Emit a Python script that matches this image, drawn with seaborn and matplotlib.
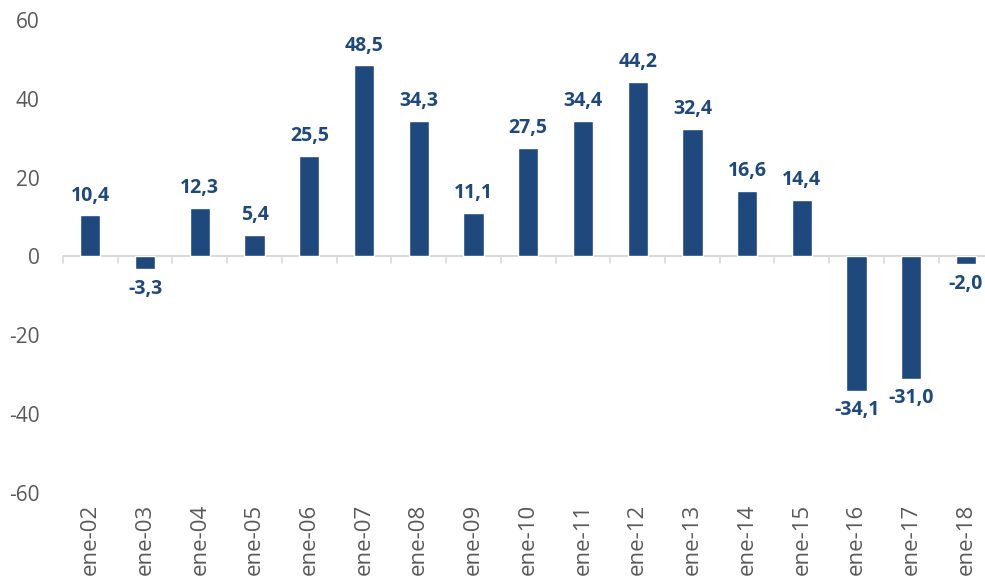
import matplotlib
matplotlib.use('Agg')
import matplotlib.pyplot as plt
import seaborn as sns
import pandas as pd

# Datos
periodos = ['ene-02', 'ene-03', 'ene-04', 'ene-05', 'ene-06', 'ene-07', 'ene-08',
            'ene-09', 'ene-10', 'ene-11', 'ene-12', 'ene-13', 'ene-14', 'ene-15',
            'ene-16', 'ene-17', 'ene-18']
valores = [10.4, -3.3, 12.3, 5.4, 25.5, 48.5, 34.3, 11.1, 27.5, 34.4, 44.2,
           32.4, 16.6, 14.4, -34.1, -31.0, -2.0]
y_ticks = [-60, -40, -20, 0, 20, 40, 60]

azul = '#1F497D'
gris = '#595959'

sns.set_style('white')
plt.rcParams['font.family'] = ['Open Sans', 'DejaVu Sans']
plt.rcParams['axes.unicode_minus'] = False

df = pd.DataFrame({'periodo': periodos, 'valor': valores})

fig = plt.figure(figsize=(9.85, 5.86), dpi=100)
ax = fig.add_axes([63 / 985, 0.159, 1 - 63 / 985, 0.966 - 0.159])

sns.barplot(data=df, x='periodo', y='valor', color=azul, width=0.37,
            saturation=1, ax=ax)

# Etiquetas de valor
etiquetas = [f'{v:.1f}'.replace('.', ',') for v in valores]
ax.bar_label(ax.containers[0], labels=etiquetas, padding=7, color=azul,
             fontsize=14, fontweight='bold')

# Linea del cero con marcas entre categorias
ax.axhline(0, color='#D9D9D9', linewidth=1.5, zorder=0)
for i in range(len(periodos) + 1):
    ax.plot([i - 0.5, i - 0.5], [0, -1.8], color='#D9D9D9', linewidth=1.2,
            zorder=0, clip_on=False)

ax.set_ylim(-60, 60)
ax.set_yticks(y_ticks)
ax.set_xlim(-0.5, len(periodos) - 0.5 - 8.4 / 54.75)
for s in ax.spines.values():
    s.set_visible(False)
ax.set_xlabel('')
ax.set_ylabel('')
ax.tick_params(axis='y', length=0, pad=17, labelsize=15, labelcolor=gris)
ax.tick_params(axis='x', length=0, pad=8, labelsize=16, labelcolor=gris,
               labelrotation=90)

fig.savefig('out.png', dpi=100)
plt.close(fig)
